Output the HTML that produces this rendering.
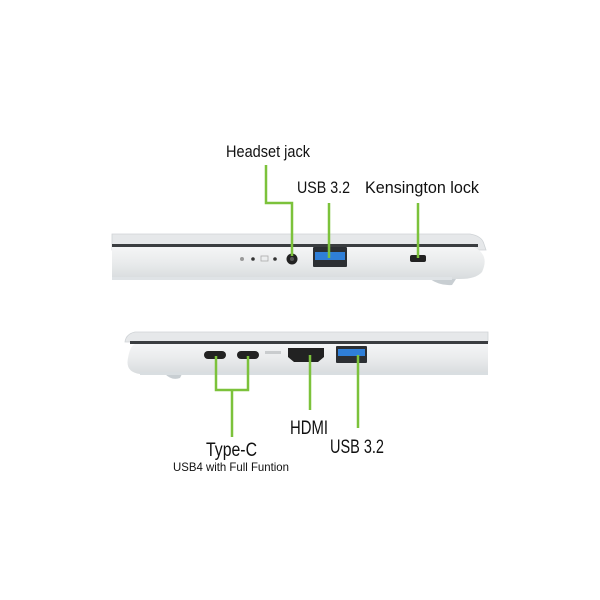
<!DOCTYPE html>
<html><head><style>
html,body{margin:0;padding:0;background:#fff;}
svg{display:block;}
text{font-family:"Liberation Sans",sans-serif;fill:#111;}
</style></head><body>
<svg width="600" height="600" viewBox="0 0 600 600">
<defs>
<linearGradient id="b1" x1="0" y1="0" x2="0" y2="1">
<stop offset="0" stop-color="#f4f5f6"/><stop offset="0.5" stop-color="#e9ebec"/><stop offset="1" stop-color="#d8dcde"/>
</linearGradient>
</defs>
<path d="M112 234 L470 234 Q482 236 484 244 L486 250 L112 250 Z" fill="#e6e8ea" stroke="#cfd3d6" stroke-width="0.8"/>
<rect x="112" y="244" width="366" height="3" fill="#3a3d40"/>
<path d="M112 247 L474 247 Q490 255 482 272 Q476 279 460 279 L112 279 Z" fill="url(#b1)"/>
<path d="M430 279 Q440 286 452 285 L456 279 Z" fill="#c8ced2"/>
<rect x="112" y="277" width="340" height="3" fill="#dfe3e6"/>
<circle cx="242" cy="259" r="2" fill="#999"/><circle cx="253" cy="259" r="1.8" fill="#333"/>
<rect x="261" y="256" width="7" height="5" fill="none" stroke="#aaa" stroke-width="0.8"/>
<circle cx="275" cy="259" r="1.8" fill="#333"/>
<circle cx="292" cy="259" r="5.5" fill="#222"/><circle cx="292" cy="259" r="2" fill="#555"/>
<rect x="313" y="247" width="34" height="20" rx="1" fill="#2c2f33"/>
<rect x="315" y="252" width="30" height="8" fill="#2f7fd8"/>
<rect x="410" y="255" width="16" height="7" rx="2" fill="#222"/>
<path d="M266 165 V203 H292 V256" fill="none" stroke="#7cc23b" stroke-width="2.5"/>
<path d="M329 203 V258" fill="none" stroke="#7cc23b" stroke-width="2.5"/>
<path d="M418 203 V258" fill="none" stroke="#7cc23b" stroke-width="2.5"/>
<text x="226" y="157" font-size="17" textLength="84" lengthAdjust="spacingAndGlyphs">Headset jack</text>
<text x="297" y="193" font-size="17" textLength="53" lengthAdjust="spacingAndGlyphs">USB 3.2</text>
<text x="365" y="193" font-size="17" textLength="114" lengthAdjust="spacingAndGlyphs">Kensington lock</text>
<path d="M135 332 L488 332 L488 342 L125 342 Q126 334 135 332 Z" fill="#e6e8ea" stroke="#cfd3d6" stroke-width="0.8"/>
<rect x="130" y="341" width="358" height="3" fill="#3a3d40"/>
<path d="M135 344 L488 344 L488 374 L140 374 Q125 372 128 358 Q130 346 135 344 Z" fill="url(#b1)"/>
<path d="M165 374 Q172 381 180 378 L182 374 Z" fill="#c8ced2"/>
<rect x="140" y="372" width="348" height="3" fill="#d9dee1"/>
<rect x="204" y="351" width="22" height="8" rx="4" fill="#222"/>
<rect x="237" y="351" width="22" height="8" rx="4" fill="#222"/>
<rect x="265" y="351" width="16" height="3" fill="#c9ccce"/>
<path d="M288 348 H324 V357 L318 362 H294 L288 357 Z" fill="#222"/>
<rect x="336" y="346" width="31" height="17" rx="1" fill="#2c2f33"/>
<rect x="338" y="349" width="27" height="7" fill="#2f7fd8"/>
<path d="M216 356 V390 H248 V356 M232 390 V437" fill="none" stroke="#7cc23b" stroke-width="2.5"/>
<path d="M310 355 V410" fill="none" stroke="#7cc23b" stroke-width="2.5"/>
<path d="M358 355 V428" fill="none" stroke="#7cc23b" stroke-width="2.5"/>
<text x="206" y="456" font-size="19" textLength="51" lengthAdjust="spacingAndGlyphs">Type-C</text>
<text x="173" y="471" font-size="12" textLength="116" lengthAdjust="spacingAndGlyphs">USB4 with Full Funtion</text>
<text x="290" y="434" font-size="19" textLength="38" lengthAdjust="spacingAndGlyphs">HDMI</text>
<text x="330" y="453" font-size="19" textLength="54" lengthAdjust="spacingAndGlyphs">USB 3.2</text>
</svg>
</body></html>
